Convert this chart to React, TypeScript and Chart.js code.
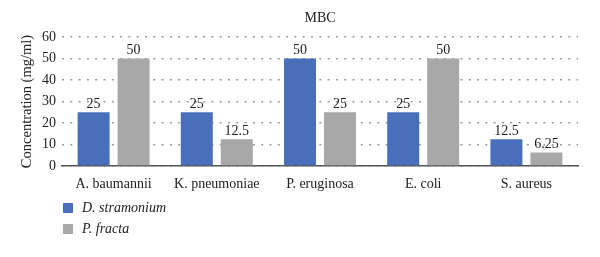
import React, { useEffect, useRef } from "react";
import { Chart, registerables } from "chart.js";

Chart.register(...registerables);

const categories = ["A. baumannii", "K. pneumoniae", "P. eruginosa", "E. coli", "S. aureus"];
const stramoniumValues = [25, 25, 50, 25, 12.5];
const fractaValues = [50, 12.5, 25, 50, 6.25];
const seriesNames = ["D. stramonium", "P. fracta"];
const seriesColors = ["#4a6fba", "#a8a8a8"];
const titleText = "MBC";
const yAxisTitle = "Concentration (mg/ml)";

const FONT = "'Liberation Serif', 'DejaVu Serif', serif";

const valueLabelPlugin = {
  id: "valueLabels",
  afterDatasetsDraw(chart: any) {
    const ctx = chart.ctx;
    ctx.save();
    ctx.font = `14px ${FONT}`;
    ctx.fillStyle = "#222";
    ctx.textAlign = "center";
    ctx.textBaseline = "bottom";
    chart.data.datasets.forEach((ds: any, i: number) => {
      const meta = chart.getDatasetMeta(i);
      meta.data.forEach((bar: any, j: number) => {
        ctx.fillText(String(ds.data[j]), bar.x, bar.y - 1);
      });
    });
    ctx.restore();
  },
};

const titleAndLegendPlugin = {
  id: "titleAndLegend",
  afterDraw(chart: any) {
    const ctx = chart.ctx;
    const area = chart.chartArea;
    ctx.save();
    ctx.font = `14px ${FONT}`;
    ctx.fillStyle = "#222";
    ctx.textAlign = "center";
    ctx.textBaseline = "middle";
    ctx.fillText(titleText, (area.left + area.right) / 2, 18);

    ctx.font = `italic 14px ${FONT}`;
    ctx.textAlign = "left";
    chart.data.datasets.forEach((ds: any, i: number) => {
      const cy = 208 + i * 21;
      ctx.fillStyle = ds.backgroundColor;
      ctx.fillRect(63, cy - 5, 10, 10);
      ctx.fillStyle = "#222";
      ctx.fillText(ds.label, 82, cy);
    });
    ctx.restore();
  },
};

export default function App() {
  const ref = useRef<HTMLCanvasElement>(null);
  useEffect(() => {
    document.body.style.margin = "0";
    const chart = new Chart(ref.current!, {
      type: "bar",
      data: {
        labels: categories,
        datasets: [
          { label: seriesNames[0], data: stramoniumValues, backgroundColor: seriesColors[0] },
          { label: seriesNames[1], data: fractaValues, backgroundColor: seriesColors[1] },
        ],
      },
      options: {
        animation: false,
        responsive: false,
        maintainAspectRatio: false,
        layout: { padding: { left: 18, right: 22, top: 37, bottom: 60 } },
        datasets: { bar: { categoryPercentage: 0.775, barPercentage: 0.8 } },
        plugins: {
          legend: { display: false },
          tooltip: { enabled: false },
          title: { display: false },
        },
        scales: {
          x: {
            grid: { display: false, drawTicks: false },
            border: { display: true, color: "#555", width: 1.5 },
            ticks: { color: "#222", font: { family: FONT, size: 14 }, padding: 10 },
            afterFit: (s: any) => { s.height = 31; },
          },
          y: {
            min: 0,
            max: 60,
            ticks: { stepSize: 10, color: "#222", font: { family: FONT, size: 14 }, padding: 6 },
            grid: { color: "#9a9a9a", drawTicks: false, lineWidth: 1.5 },
            border: { display: false, dash: [2, 6.3] },
            title: {
              display: true,
              text: yAxisTitle,
              color: "#222",
              font: { family: FONT, size: 14.5 },
              padding: { top: 0, bottom: 4 },
            },
            afterFit: (s: any) => { s.width = 44; },
          },
        },
      } as any,
      plugins: [valueLabelPlugin, titleAndLegendPlugin],
    });
    return () => chart.destroy();
  }, []);
  return (
    <div style={{ position: "absolute", left: 0, top: 0, width: 600, height: 257, background: "#fff" }}>
      <canvas ref={ref} width={600} height={257} style={{ width: 600, height: 257 }} />
    </div>
  );
}
